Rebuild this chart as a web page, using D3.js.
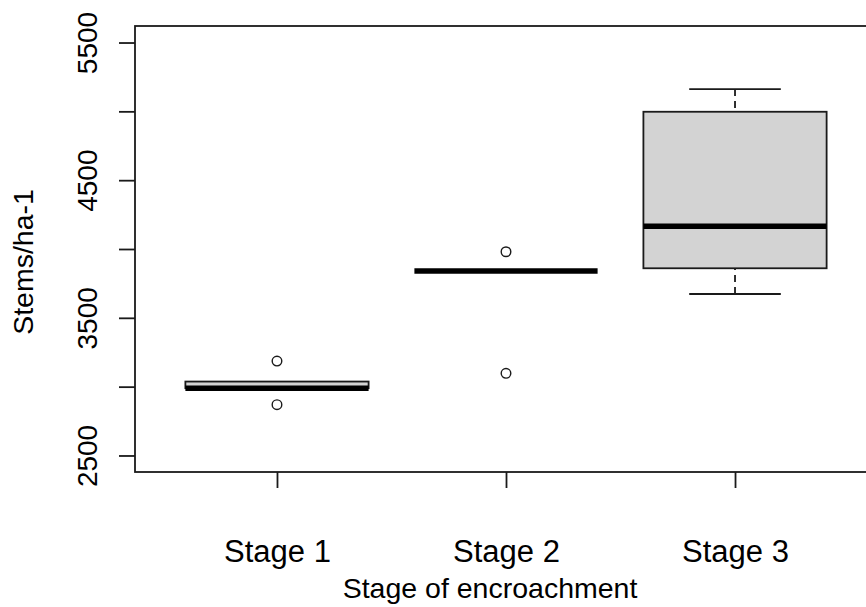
<!DOCTYPE html>
<html>
<head>
<meta charset="utf-8">
<script src="https://cdn.jsdelivr.net/npm/d3@7"></script>
<style>
  html, body { margin: 0; padding: 0; background: #fff; }
  svg { display: block; font-family: "Liberation Sans", Arial, sans-serif; }
</style>
</head>
<body>
<svg id="chart" width="866" height="607"></svg>
<script>
// Stem density by stage of encroachment (box-plot summary statistics)
const categories = ["Stage 1", "Stage 2", "Stage 3"];
const whiskerLow = [2989, 3840, 3673];
const q1 = [2989, 3840, 3860];
const medians = [2989, 3840, 4165];
const q3 = [3037, 3840, 4997];
const whiskerHigh = [3037, 3840, 5162];
const outliers = [[3186, 2869], [3980, 3097], []];

const yTicks = [2500, 3000, 3500, 4000, 4500, 5000, 5500];
const yTickLabels = ["2500", "", "3500", "", "4500", "", "5500"];

const xLabel = "Stage of encroachment";
const yLabel = "Stems/ha-1";

const svg = d3.select("#chart");
const ink = "#1a1a1a";
const fontFamily = "'Liberation Sans', Arial, sans-serif";

const plotLeft = 135, plotRight = 877, plotTop = 26, plotBottom = 472;

// Category positions 1..n, padded by 4% as in a base-graphics box plot
const x = d3.scaleLinear().domain([0.38, 3.62]).range([plotLeft, plotRight]);
const y = d3.scaleLinear().domain([2380, 5620]).range([plotBottom, plotTop]);

const boxHalf = 0.4, capHalf = 0.2;

const stats = categories.map((c, i) => ({
  pos: i + 1, name: c,
  lo: whiskerLow[i], q1: q1[i], med: medians[i], q3: q3[i], hi: whiskerHigh[i],
  out: outliers[i]
}));

const g = svg.append("g");

// Whiskers (dashed), drawn from the whisker end toward the box
stats.forEach(d => {
  if (d.hi > d.q3) {
    g.append("line")
      .attr("x1", x(d.pos)).attr("x2", x(d.pos))
      .attr("y1", y(d.hi)).attr("y2", y(d.q3))
      .attr("stroke", ink).attr("stroke-width", 1.8)
      .attr("stroke-dasharray", "7,5");
    g.append("line")
      .attr("x1", x(d.pos - capHalf)).attr("x2", x(d.pos + capHalf))
      .attr("y1", y(d.hi)).attr("y2", y(d.hi))
      .attr("stroke", ink).attr("stroke-width", 1.8);
  }
  if (d.lo < d.q1) {
    g.append("line")
      .attr("x1", x(d.pos)).attr("x2", x(d.pos))
      .attr("y1", y(d.lo)).attr("y2", y(d.q1))
      .attr("stroke", ink).attr("stroke-width", 1.8)
      .attr("stroke-dasharray", "7,5");
    g.append("line")
      .attr("x1", x(d.pos - capHalf)).attr("x2", x(d.pos + capHalf))
      .attr("y1", y(d.lo)).attr("y2", y(d.lo))
      .attr("stroke", ink).attr("stroke-width", 1.8);
  }
});

// Boxes
g.selectAll("rect.box").data(stats).enter().append("rect")
  .attr("class", "box")
  .attr("x", d => x(d.pos - boxHalf))
  .attr("width", d => x(d.pos + boxHalf) - x(d.pos - boxHalf))
  .attr("y", d => y(d.q3))
  .attr("height", d => Math.max(0, y(d.q1) - y(d.q3)))
  .attr("fill", "#d3d3d3")
  .attr("stroke", ink).attr("stroke-width", 1.8);

// Medians
g.selectAll("line.med").data(stats).enter().append("line")
  .attr("class", "med")
  .attr("x1", d => x(d.pos - boxHalf)).attr("x2", d => x(d.pos + boxHalf))
  .attr("y1", d => y(d.med)).attr("y2", d => y(d.med))
  .attr("stroke", "#000").attr("stroke-width", 5.5);

// Outlying points
const pts = stats.flatMap(d => d.out.map(v => ({ pos: d.pos, v })));
g.selectAll("circle.out").data(pts).enter().append("circle")
  .attr("class", "out")
  .attr("cx", d => x(d.pos)).attr("cy", d => y(d.v))
  .attr("r", 4.8)
  .attr("fill", "none").attr("stroke", ink).attr("stroke-width", 1.4);

// Plot frame
svg.append("rect")
  .attr("x", plotLeft).attr("y", plotTop)
  .attr("width", plotRight - plotLeft).attr("height", plotBottom - plotTop)
  .attr("fill", "none").attr("stroke", ink).attr("stroke-width", 1.8);

// Y axis: ticks every 500, labels rotated and parallel to the axis
const yAxis = svg.append("g")
  .attr("transform", `translate(${plotLeft},0)`)
  .call(d3.axisLeft(y).tickValues(yTicks)
    .tickFormat((d, i) => yTickLabels[i]).tickSize(16).tickSizeOuter(0));
yAxis.select(".domain").remove();
yAxis.selectAll(".tick line").attr("stroke", ink).attr("stroke-width", 1.8);
yAxis.selectAll(".tick text")
  .attr("transform", "rotate(-90)")
  .attr("x", 0).attr("y", -38).attr("dy", 0)
  .attr("text-anchor", "middle")
  .attr("fill", "#000")
  .style("font-size", "28px")
  .style("font-family", fontFamily);

// X axis: one tick per stage
const xAxis = svg.append("g")
  .attr("transform", `translate(0,${plotBottom})`)
  .call(d3.axisBottom(x).tickValues(stats.map(d => d.pos))
    .tickFormat((d, i) => categories[i]).tickSize(16).tickSizeOuter(0));
xAxis.select(".domain").remove();
xAxis.selectAll(".tick line").attr("stroke", ink).attr("stroke-width", 1.8);
xAxis.selectAll(".tick text")
  .attr("y", 90).attr("dy", 0)
  .attr("fill", "#000")
  .style("font-size", "31px")
  .style("font-family", fontFamily);

// Axis titles
svg.append("text")
  .attr("x", 490).attr("y", 598)
  .attr("text-anchor", "middle")
  .style("font-size", "28.5px")
  .text(xLabel);

svg.append("text")
  .attr("transform", "translate(33,262) rotate(-90)")
  .attr("text-anchor", "middle")
  .style("font-size", "28.5px")
  .text(yLabel);
</script>
</body>
</html>
